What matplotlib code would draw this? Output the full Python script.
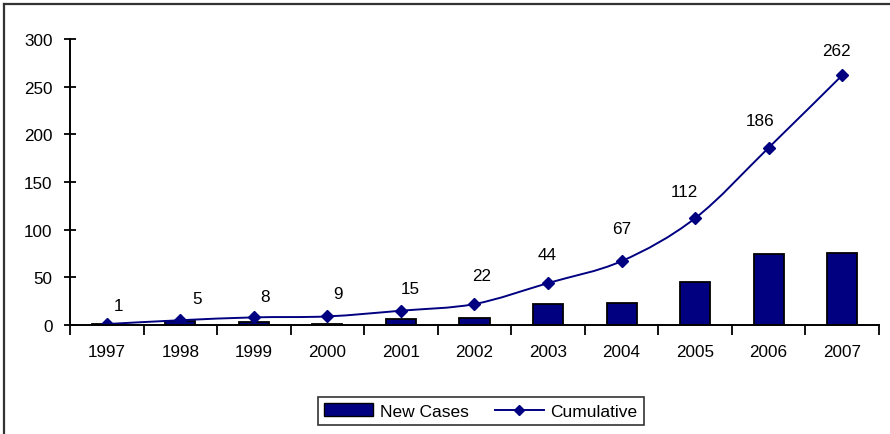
import matplotlib
matplotlib.use("Agg")
import matplotlib.pyplot as plt
from matplotlib.path import Path
from matplotlib.patches import PathPatch, Patch
from matplotlib.lines import Line2D
import numpy as np

years = ["1997", "1998", "1999", "2000", "2001", "2002", "2003", "2004", "2005", "2006", "2007"]
new_cases = [1, 4, 3, 1, 6, 7, 22, 23, 45, 74, 76]
cumulative = [1, 5, 8, 9, 15, 22, 44, 67, 112, 186, 262]
y_ticks = [0, 50, 100, 150, 200, 250, 300]

# label offsets in pixels (style only)
label_dx = [12, 17, 11, 11, 9, 7, -1, 0, -11, -9, -6]
label_dy = [19, 22, 21, 23, 22, 29, 29, 33, 27, 27, 25]

NAVY = "#000080"
plt.rcParams['font.family'] = ['Liberation Sans', 'DejaVu Sans']

fig = plt.figure(figsize=(8.9, 4.35), dpi=100)
ax = fig.add_axes([70/890, 1-326/435, (879-70)/890, (326-40)/435])

x = np.arange(len(years))
ax.bar(x, new_cases, width=0.41, color=NAVY, edgecolor="black", linewidth=1.3, zorder=2)

# smoothed line (Excel-style) via Bezier path through data points
pts = np.column_stack([x, cumulative]).astype(float)
verts = [tuple(pts[0])]
codes = [Path.MOVETO]
n = len(pts)
for i in range(n - 1):
    p0 = pts[i - 1] if i > 0 else pts[i]
    p1 = pts[i]
    p2 = pts[i + 1]
    p3 = pts[i + 2] if i + 2 < n else pts[i + 1]
    c1 = p1 + (p2 - p0) / 6.0
    c2 = p2 - (p3 - p1) / 6.0
    verts += [tuple(c1), tuple(c2), tuple(p2)]
    codes += [Path.CURVE4] * 3
ax.add_patch(PathPatch(Path(verts, codes), facecolor="none", edgecolor=NAVY, linewidth=1.4, zorder=3))
ax.plot(x, cumulative, linestyle="none", marker="D", markersize=6.5, color=NAVY, zorder=4)

for xi, v, dx, dy in zip(x, cumulative, label_dx, label_dy):
    ax.annotate(str(v), (xi, v), xytext=(dx, dy), textcoords="offset pixels",
                ha="center", va="center", fontsize=12.3, color="black")

ax.set_xlim(-0.5, len(years) - 0.5)
ax.set_ylim(0, 300)
ax.set_yticks(y_ticks)
ax.set_xticks(x)
ax.set_xticklabels(years)
ax.set_xticks(np.arange(-0.5, len(years)), minor=True)
ax.tick_params(axis="x", which="major", length=0, pad=14, labelsize=12.3)
ax.tick_params(axis="x", which="minor", length=7, width=1.3, direction="out")
ax.tick_params(axis="y", length=9, width=1.3, direction="inout", pad=8, labelsize=12.3)

for s in ["top", "right"]:
    ax.spines[s].set_visible(False)
for s in ["left", "bottom"]:
    ax.spines[s].set_linewidth(1.4)
    ax.spines[s].set_color("black")
    ax.spines[s].set_zorder(5)

# outer chart frame (left and top edges visible)
fig.add_artist(Line2D([4/890, 4/890], [0, 1-5/435], transform=fig.transFigure, color="#333333", linewidth=1.6))
fig.add_artist(Line2D([4/890, 1], [1-5/435, 1-5/435], transform=fig.transFigure, color="#333333", linewidth=1.6))

handles = [Patch(facecolor=NAVY, edgecolor="black", linewidth=1),
           Line2D([0], [0], color=NAVY, marker="D", markersize=5, linewidth=1.4)]
leg = fig.legend(handles, ["New Cases", "Cumulative"], loc="center",
                 bbox_to_anchor=(481/890, 1-412/435), ncol=2, fontsize=12.5,
                 frameon=True, fancybox=False, edgecolor="black", handlelength=2.8,
                 columnspacing=1.5, handletextpad=0.4, borderpad=0.35)
leg.get_frame().set_linewidth(1.2)

fig.savefig("out.png", dpi=100, facecolor="white")
